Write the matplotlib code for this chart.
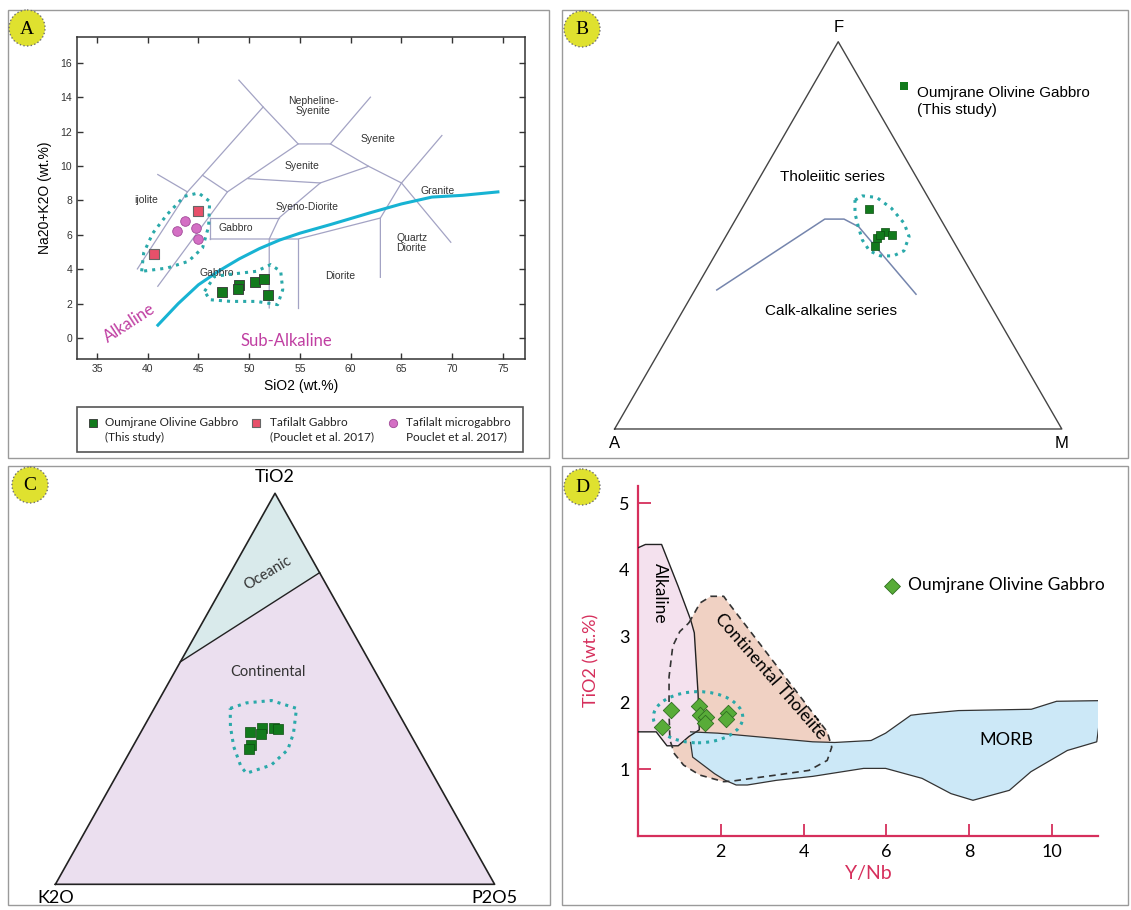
import numpy as np
import matplotlib
matplotlib.use('Agg')
import matplotlib.pyplot as plt
from matplotlib.patches import Rectangle, Circle, Ellipse, Polygon

W, H = 1131, 910

# ---------------- panel A : TAS (SiO2 vs Na2O+K2O) ----------------
tas_lines = [
    [(38.98, 4.02), (43.91, 8.50), (45.39, 9.47), (51.37, 13.44), (48.98, 15.0)],
    [(40.99, 9.51), (43.91, 8.50)],
    [(45.39, 9.47), (47.85, 8.50)],
    [(40.99, 3.01), (47.85, 8.50), (54.82, 11.29)],
    [(51.37, 13.44), (54.82, 11.29), (58.0, 11.29), (61.94, 14.01)],
    [(58.0, 11.29), (61.76, 9.99), (65.0, 9.02), (68.98, 11.78)],
    [(65.0, 9.02), (69.86, 5.57)],
    [(49.89, 9.27), (57.0, 9.02), (61.76, 9.99)],
    [(57.0, 9.02), (52.96, 7.0), (51.97, 5.76), (51.97, 1.75)],
    [(46.16, 7.0), (52.96, 7.0)],
    [(46.16, 7.0), (46.16, 5.76)],
    [(46.16, 5.76), (54.82, 5.76), (62.92, 6.98), (62.92, 3.53)],
    [(54.82, 5.76), (54.82, 1.75)],
    [(65.0, 9.02), (62.92, 6.98)],
]
tas_names = ['Nepheline-\nSyenite', 'Syenite', 'Syenite', 'Syeno-Diorite', 'Granite',
             'Quartz\nDiorite', 'Diorite', 'Gabbro', 'Gabbro', 'ijolite']
tas_name_x = [56.3, 62.7, 55.2, 55.7, 68.6, 66.0, 59.0, 48.7, 46.8, 39.8]
tas_name_y = [13.5, 11.6, 10.0, 7.6, 8.55, 5.5, 3.6, 6.4, 3.8, 8.0]

# Irvine & Baragar alkaline / sub-alkaline divide
ib_sio2 = [41.0, 43.0, 45.0, 47.0, 49.0, 51.0, 53.0, 55.0, 58.0, 62.0, 65.0, 68.0, 71.0, 74.5]
ib_alk = [0.75, 2.0, 3.1, 3.9, 4.6, 5.2, 5.7, 6.1, 6.6, 7.3, 7.8, 8.2, 8.3, 8.5]

oum_sio2 = [47.3, 49.0, 48.9, 50.6, 51.5, 51.8]
oum_alk = [2.69, 3.08, 2.83, 3.26, 3.46, 2.49]
tgb_sio2 = [40.65, 44.98]
tgb_alk = [4.91, 7.36]
tmg_sio2 = [42.9, 43.7, 44.8, 45.0]
tmg_alk = [6.22, 6.78, 6.42, 5.78]

envA1_x = [39.4, 39.6, 40.5, 41.9, 43.6, 45.0, 46.1, 46.0, 45.4, 44.0, 41.9, 39.4]
envA1_y = [3.88, 4.95, 6.1, 7.18, 8.24, 8.44, 7.95, 6.5, 5.24, 4.46, 4.07, 3.88]
envA2_x = [45.6, 46.6, 48.6, 50.7, 52.1, 53.1, 53.3, 52.8, 50.7, 48.2, 46.1, 45.6]
envA2_y = [2.72, 3.59, 3.74, 3.88, 4.27, 3.88, 2.81, 1.94, 2.13, 2.13, 2.23, 2.72]

# ---------------- panel B : AFM ----------------
afm_F = [56.7, 50.8, 50.0, 49.3, 47.3, 50.1]
afm_M = [28.5, 35.1, 37.0, 34.0, 34.6, 34.4]
afm_line_F = [35.9, 54.2, 54.2, 52.2, 34.8]
afm_line_M = [4.9, 19.9, 24.2, 28.5, 50.0]
envB_F = [59.1, 60.2, 59.8, 57.0, 53.1, 49.7, 46.0, 44.7, 44.7, 46.0, 48.8, 52.2, 55.7, 59.1]
envB_M = [24.2, 25.3, 28.7, 33.4, 38.2, 41.0, 41.7, 40.0, 37.1, 34.0, 31.0, 28.4, 25.9, 24.2]

# ---------------- panel C : TiO2-K2O-P2O5 ----------------
tkp_T = [38.9, 39.9, 40.1, 39.6, 38.4, 35.6, 34.5]
tkp_P = [24.9, 27.0, 29.7, 30.9, 27.5, 26.7, 26.8]
bound_T = [56.9, 79.7]
bound_P = [0.0, 20.3]
envC_T = [45.0, 46.4, 47.0, 45.0, 38.6, 34.4, 30.5, 28.4, 30.1, 35.2, 40.3, 45.0]
envC_P = [17.3, 20.3, 25.7, 32.4, 34.9, 35.7, 33.9, 29.3, 27.2, 23.0, 19.7, 17.3]

# ---------------- panel D : Y/Nb vs TiO2 ----------------
alk_x = [0.0, 0.18, 0.57, 0.97, 1.27, 1.36, 1.45, 1.48, 1.23, 0.97, 0.70, 0.44, 0.0]
alk_y = [4.33, 4.38, 4.38, 3.75, 3.25, 3.05, 2.14, 1.59, 1.49, 1.35, 1.35, 1.56, 1.56]
ct_x = [1.23, 1.5, 1.76, 2.07, 2.15, 4.57, 4.68, 4.57, 4.13, 3.34, 2.29, 2.07, 1.49, 1.10,
        0.88, 0.77, 0.75, 0.75, 0.84, 1.01, 1.23]
ct_y = [3.2, 3.5, 3.60, 3.60, 3.53, 1.56, 1.33, 1.13, 0.98, 0.91, 0.82, 0.81, 0.91, 1.06,
        1.23, 1.44, 1.84, 2.39, 2.85, 3.07, 3.2]
morb_x = [1.27, 1.93, 3.34, 4.22, 4.75, 5.63, 5.98, 6.59, 6.86, 7.74, 9.5, 10.11, 11.21,
          11.08, 10.37, 9.49, 8.97, 8.09, 7.56, 6.86, 5.98, 5.45, 4.22, 3.34, 2.64, 2.37,
          2.11, 1.85, 1.32, 1.27]
morb_y = [1.56, 1.54, 1.46, 1.41, 1.40, 1.43, 1.54, 1.81, 1.83, 1.88, 1.90, 2.02, 2.03,
          1.41, 1.28, 0.96, 0.68, 0.53, 0.63, 0.86, 1.01, 1.01, 0.89, 0.83, 0.76, 0.76,
          0.83, 0.93, 1.18, 1.40]
ynb = [0.57, 0.79, 1.48, 1.49, 1.65, 1.63, 2.18, 2.13]
tio2 = [1.64, 1.89, 1.95, 1.81, 1.79, 1.70, 1.85, 1.75]

TEAL = '#2aa9aa'
GREEN = '#127a1c'
CRIMSON = '#d62f5c'


def px_axes(fig, x0, y0, x1, y1):
    ax = fig.add_axes([x0 / W, 1 - y1 / H, (x1 - x0) / W, (y1 - y0) / H])
    ax.set_facecolor('none')
    return ax


def tern(top, right):
    # top apex and right corner fractions (percent) -> cartesian
    t = np.asarray(top) / 100.0
    r = np.asarray(right) / 100.0
    return r + t / 2, t * np.sqrt(3) / 2


fig = plt.figure(figsize=(W / 100, H / 100), dpi=100)

# background layer in pixel units: frames, letters, legend of A
bg = fig.add_axes([0, 0, 1, 1])
bg.set_xlim(0, W)
bg.set_ylim(H, 0)
bg.axis('off')
for x0, y0, x1, y1 in [(8, 10, 549, 458), (562, 10, 1128, 458),
                       (8, 466, 550, 905), (562, 466, 1128, 905)]:
    bg.add_patch(Rectangle((x0, y0), x1 - x0, y1 - y0, fill=False, ec='#9a9a9a', lw=1))
for letter, cx, cy in [('A', 27, 28), ('B', 582, 29), ('C', 30, 485), ('D', 582, 487)]:
    bg.add_patch(Circle((cx, cy), 18, fc='#dfe12f', ec='#707070', ls=':', lw=1))
    bg.text(cx, cy + 1, letter, ha='center', va='center', fontsize=14,
            family='Liberation Serif')

# legend box of panel A
bg.add_patch(Rectangle((77, 407), 446, 45, fill=False, ec='#555555', lw=1.2))
bg.scatter([93], [423], marker='s', s=36, c=GREEN, edgecolors='#333333', lw=0.6)
bg.scatter([256], [423], marker='s', s=36, c='#e8506a', edgecolors='#666666', lw=0.8)
bg.scatter([393], [423], marker='o', s=36, c='#d46fc4', edgecolors='#a04a98', lw=0.6)
for x, l1, l2 in [(105, 'Oumjrane Olivine Gabbro', '(This study)'),
                  (270, 'Tafilalt Gabbro', '(Pouclet et al. 2017)'),
                  (406, 'Tafilalt microgabbro', 'Pouclet et al. 2017)')]:
    bg.text(x, 423, l1, fontsize=8.5, family='Lato', va='center', color='#222222')
    bg.text(x, 437, l2, fontsize=8.5, family='Lato', va='center', color='#222222')

# ---------------- A ----------------
ax = px_axes(fig, 77, 37, 525, 359)
ax.set_xlim(33.03, 77.17)
ax.set_ylim(-1.22, 17.51)
for seg in tas_lines:
    xs, ys = zip(*seg)
    ax.plot(xs, ys, color='#a3a3c4', lw=0.9, zorder=1)
for name, x, y in zip(tas_names, tas_name_x, tas_name_y):
    ax.text(x, y, name, fontsize=7.5, ha='center', va='center', family='Liberation Sans',
            color='#333333', linespacing=1.0)
ax.plot(ib_sio2, ib_alk, color='#17b3d3', lw=2.2, zorder=2)
ax.plot(envA1_x, envA1_y, color=TEAL, ls=':', lw=2.2, zorder=3)
ax.plot(envA2_x, envA2_y, color=TEAL, ls=':', lw=2.2, zorder=3)
ax.scatter(oum_sio2, oum_alk, marker='s', s=55, c=GREEN, edgecolors='#333333', lw=0.6, zorder=4)
ax.scatter(tgb_sio2, tgb_alk, marker='s', s=55, c='#e8506a', edgecolors='#666666', lw=0.8, zorder=4)
ax.scatter(tmg_sio2, tmg_alk, marker='o', s=48, c='#d46fc4', edgecolors='#a04a98', lw=0.6, zorder=4)
ax.text(38.2, 0.85, 'Alkaline', rotation=33, fontsize=12, color='#c03fa2', family='Lato',
        ha='center', va='center')
ax.text(53.7, -0.2, 'Sub-Alkaline', fontsize=12, color='#c03fa2', family='Lato',
        ha='center', va='center')
ax.set_xticks(range(35, 80, 5))
ax.set_yticks(range(0, 18, 2))
ax.tick_params(direction='in', top=True, right=True, length=4, width=1,
               labelsize=7.5, colors='#333333')
for lab in ax.get_xticklabels() + ax.get_yticklabels():
    lab.set_family('Liberation Sans')
for sp in ax.spines.values():
    sp.set_color('#333333')
    sp.set_linewidth(1.1)
ax.set_xlabel('SiO2 (wt.%)', fontsize=10, family='Liberation Sans', labelpad=4)
ax.set_ylabel('Na20+K2O (wt.%)', fontsize=10, family='Liberation Sans', labelpad=6)

# ---------------- B ----------------
ax = px_axes(fig, 565, 12, 1125, 456)
ax.set_xlim(-0.1109, 1.1413)
ax.set_ylim(-0.0604, 0.9325)
ax.axis('off')
tx, ty = tern([0, 100, 0, 0], [0, 0, 100, 0])
ax.plot(tx, ty, color='#444444', lw=1)
lx, ly = tern(afm_line_F, afm_line_M)
ax.plot(lx, ly, color='#7585ad', lw=1.1)
ex, ey = tern(envB_F, envB_M)
ax.plot(ex, ey, color=TEAL, ls=':', lw=2.2)
px_, py_ = tern(afm_F, afm_M)
ax.scatter(px_, py_, marker='s', s=40, c=GREEN, edgecolors='#0d4d12', lw=0.5, zorder=4)
ax.text(0.5, 0.88, 'F', fontsize=12, ha='center', va='bottom', family='Liberation Sans')
ax.text(0.0, -0.015, 'A', fontsize=12, ha='center', va='top', family='Liberation Sans')
ax.text(1.0, -0.015, 'M', fontsize=12, ha='center', va='top', family='Liberation Sans')
ax.text(0.488, 0.563, 'Tholeiitic series', fontsize=11, ha='center', va='center',
        family='Liberation Sans')
ax.text(0.484, 0.263, 'Calk-alkaline series', fontsize=11, ha='center', va='center',
        family='Liberation Sans')
ax.scatter([0.648], [0.767], marker='s', s=40, c=GREEN, lw=0)
ax.text(0.677, 0.767, 'Oumjrane Olivine Gabbro\n(This study)', fontsize=11, ha='left',
        va='top', family='Liberation Sans', linespacing=1.25)

# ---------------- C ----------------
ax = px_axes(fig, 10, 467, 550, 903)
ax.set_xlim(-0.1034, 1.1261)
ax.set_ylim(-0.0414, 0.9243)
ax.axis('off')
bx, by = tern(bound_T, bound_P)
cont = Polygon([(0, 0), (1, 0), (bx[1], by[1]), (bx[0], by[0])], closed=True,
               fc='#ebdfef', ec='none')
ocean = Polygon([(bx[0], by[0]), (0.5, np.sqrt(3) / 2), (bx[1], by[1])], closed=True,
                fc='#d9eaeb', ec='none')
ax.add_patch(cont)
ax.add_patch(ocean)
ax.plot(bx, by, color='#222222', lw=1)
tx, ty = tern([0, 100, 0, 0], [0, 0, 100, 0])
ax.plot(tx, ty, color='#222222', lw=1.2)
ex, ey = tern(envC_T, envC_P)
ax.plot(ex, ey, color=TEAL, ls=':', lw=2.2)
px_, py_ = tern(tkp_T, tkp_P)
ax.scatter(px_, py_, marker='s', s=60, c=GREEN, edgecolors='#0d4d12', lw=0.5, zorder=4)
ax.text(0.5, 0.885, 'TiO2', fontsize=13, ha='center', va='bottom', family='Lato')
ax.text(0.0, -0.012, 'K2O', fontsize=13, ha='center', va='top', family='Lato')
ax.text(1.0, -0.012, 'P2O5', fontsize=13, ha='center', va='top', family='Lato')
ax.text(0.484, 0.689, 'Oceanic', fontsize=10.5, rotation=31, ha='center', va='center',
        family='Lato', color='#333333')
ax.text(0.484, 0.471, 'Continental', fontsize=10.5, ha='center', va='center',
        family='Lato', color='#333333')

# ---------------- D ----------------
ax = px_axes(fig, 638, 486, 1098, 835.5)
ax.set_xlim(0, 11.11)
ax.set_ylim(0, 5.26)
ax.fill(ct_x, ct_y, fc='#f0d1c3', ec='none', zorder=1)
ax.fill(alk_x, alk_y, fc='#f4e1ee', ec='none', zorder=2)
ax.fill(morb_x, morb_y, fc='#cce8f7', ec='none', zorder=3)
ax.plot(alk_x, alk_y, color='#222222', lw=1, zorder=4)
ax.plot(morb_x, morb_y, color='#333333', lw=0.9, zorder=4)
ax.plot(ct_x, ct_y, color='#333333', lw=1.2, ls=(0, (4, 3)), zorder=5)
ax.add_patch(Ellipse((1.45, 1.78), 2.16, 0.77, fill=False, ec=TEAL, ls=':', lw=2.2, zorder=6))
ax.scatter(ynb, tio2, marker='D', s=70, c='#58ac38', edgecolors='#2f6e20', lw=0.6, zorder=7)
ax.scatter([6.14], [3.76], marker='D', s=65, c='#58ac38', edgecolors='#2f6e20', lw=0.6)
ax.text(6.52, 3.77, 'Oumjrane Olivine Gabbro', fontsize=12.5, va='center', family='Lato')
ax.text(0.53, 3.65, 'Alkaline', rotation=-90, fontsize=12.5, ha='center', va='center',
        family='Lato', zorder=8)
ax.text(3.2, 2.4, 'Continental Tholeiite', rotation=-49, fontsize=12.5, ha='center',
        va='center', family='Lato', zorder=8)
ax.text(8.9, 1.44, 'MORB', fontsize=13, ha='center', va='center', family='Lato', zorder=8)
ax.set_xticks([2, 4, 6, 8, 10])
ax.set_yticks([1, 2, 3, 4, 5])
ax.tick_params(direction='in', length=9, width=1.3, color=CRIMSON, labelsize=13, pad=6)
for lab in ax.get_xticklabels() + ax.get_yticklabels():
    lab.set_family('Lato')
for s in ['top', 'right']:
    ax.spines[s].set_visible(False)
for s in ['left', 'bottom']:
    ax.spines[s].set_color(CRIMSON)
    ax.spines[s].set_linewidth(1.6)
ax.set_xlabel('Y/Nb', fontsize=14, color=CRIMSON, family='Lato', labelpad=4)
ax.set_ylabel('TiO2 (wt.%)', fontsize=13, color=CRIMSON, family='Lato', labelpad=14)

fig.savefig('out.png', dpi=100)
